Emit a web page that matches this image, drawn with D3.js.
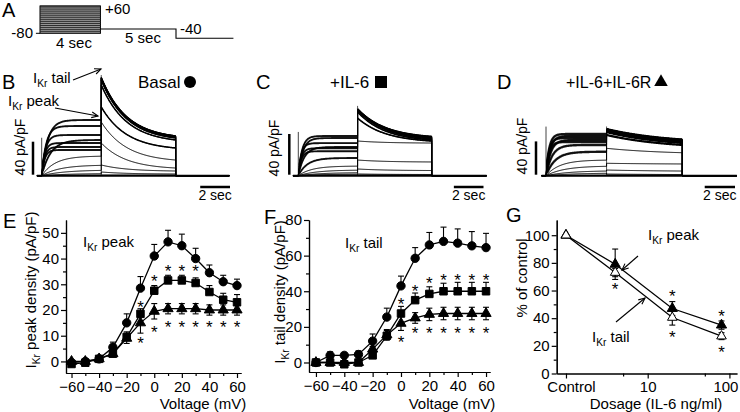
<!DOCTYPE html>
<html><head><meta charset="utf-8">
<script src="https://cdn.jsdelivr.net/npm/d3@7"></script>
<style>
body{margin:0;background:#fff;}
svg{display:block;font-family:Arial,"Liberation Sans",Helvetica,sans-serif;}
</style></head><body>
<svg id="fig" width="740" height="412"></svg>
<script>
// ---------------- DATA ----------------
const voltages = [-60,-50,-40,-30,-20,-10,0,10,20,30,40,50,60];
// Panel E: IKr peak density (pA/pF)
const peakBasal    = [-0.5,0,1,5.5,15,28.5,41,46.5,45,40,34.5,31,29.5];
const peakBasalErr = [1,1,0.5,2,3.5,4.5,4.5,4.5,4.5,4,3,2.5,2.5];
const peakIL6      = [-1,-0.5,1,3,9.5,18.5,27.5,31.5,31.5,30.5,27,24,23];
const peakIL6Err   = [0.5,0.5,0.5,1,2,2,2,2,2,2,2.5,2.5,3];
const peakIL6R     = [0,0,1,3,9,15,19.5,20.5,20.5,20.5,20,20,20];
const peakIL6RErr  = [0.5,0.5,0.5,1,2,4,3,2,2,2,2,2,2];
const peakStarsV   = [-10,0,10,20,30, -10,0,10,20,30,40,50,60];
const peakStarsY   = [22.5,32.5,36.5,36.5,36.5, 8.5,12.5,14.5,14.5,14.5,14.5,14.5,14.5];
// Panel F: IKr tail density (pA/pF)
const tailBasal    = [0,4,4,4.5,12,25.5,43,58.5,66,68,67,65.5,64.5];
const tailBasalErr = [1,2,1.5,2,4,5,5.5,6,7,8,8,8,8];
const tailIL6      = [0,0,-1,0,4,15,27.5,35,38.5,40,40,40,40];
const tailIL6Err   = [0.5,0.5,0.5,0.5,1,3,4,4,4,4.5,5,5,5];
const tailIL6R     = [0,0,0,0,7.5,15.5,22,25,27,27.5,27.5,27.5,27.5];
const tailIL6RErr  = [0.5,0.5,0.5,0.5,1.5,3,4,3,3.5,3.5,3.5,3.5,3.5];
const tailStarsV   = [0,10,20,30,40,50,60, 0,10,20,30,40,50,60];
const tailStarsY   = [34.5,42,46.3,48.2,48.2,48.2,48.2, 13.2,18.3,18.3,18.3,18.3,18.3,18.3];
// Panel G: % of control vs dosage
const doses        = [1,4,20,80];           // 1 = Control
const gPeak        = [100,79,47,35];
const gPeakErr     = [0,11,5,3];
const gTail        = [100,73,40.5,27];
const gTailErr     = [0,3,5.5,2.5];
const gStarsDose   = [4,20,20,80,80];
const gStarsY      = [63,58,28.4,43.5,18];
const gTickVals    = [1,10,100];
const gTickLabels  = ["Control","10","100"];
const gMinorVals   = [5,50];
// Panels B-D: current traces (pA/pF), one value per voltage step
const actTau       = [2,2,1.8,1.5,1.2,0.9,0.6,0.4,0.3,0.25,0.2,0.2,0.2];   // s
const stepB        = [0.2,0.8,2.7,6.9,13,23.9,43.3,67.5,60.2,49.3,39.6,34.8,31.2];
const tailStartB   = [0.2,0.8,4.5,13,39.6,65.1,83.3,110,116,117,118,118.5,119];
const tailEndB     = [0.2,0.8,2.1,5.7,9.3,19,33.6,43.3,45.7,46.9,46.9,48.1,48.1];
const stepC        = [0.2,0.7,1.7,3.1,5.6,9.5,17.4,28.2,37,39,32,27,24];
const tailStartC   = [0.2,0.7,1.7,6.6,15.4,34.1,56.6,62.6,64.6,65.1,65.1,65.6,65.6];
const tailEndC     = [0.2,0.7,1.2,5.1,13.5,32.1,34.1,35.1,36.1,37.1,37.6,38.1,38.6];
const stepD        = [0.2,0.8,3.2,6,11.7,18.9,28.8,36.9,42.9,47.7,50.1,45.3,40.5];
const tailStartD   = [0.2,0.8,2,6.8,14.9,32.9,48.9,52.4,53.6,54.8,55.5,55.5,56.1];
const tailEndD     = [0.2,0.8,1.4,5.6,14.1,27.6,36.9,39.3,40.5,41.7,42.9,42.9,43.5];
const tailTau      = [1.7,1.9,4];   // s, B, C, D
const transientAmp = [46,43,59];    // capacitive transient at step onset
const scaleBarAmp  = 40;            // pA/pF
const scaleBarTime = 2;             // s
const stepDur = 4, tailDur = 5;     // s

// ---------------- DRAWING ----------------
const svg = d3.select('#fig');
const FS = 15;

function ikr(parent, x, y, rest, size, opts = {}) {
  const t = parent.append('text').attr('x', x).attr('y', y)
    .attr('font-size', size).attr('fill', '#000');
  if (opts.anchor) t.attr('text-anchor', opts.anchor);
  if (opts.transform) t.attr('transform', opts.transform);
  t.append('tspan').text('I');
  t.append('tspan').text('Kr').attr('font-size', size * 0.68).attr('dy', size * 0.28);
  t.append('tspan').text(rest).attr('dy', -size * 0.28);
  return t;
}
function txt(parent, x, y, s, size, anchor) {
  return parent.append('text').attr('x', x).attr('y', y).attr('font-size', size)
    .attr('text-anchor', anchor || 'start').attr('fill', '#000').text(s);
}
function arrow(g, x1, y1, x2, y2) {
  g.append('line').attr('x1', x1).attr('y1', y1).attr('x2', x2).attr('y2', y2)
    .attr('stroke', '#000').attr('stroke-width', 1.1);
  const a = Math.atan2(y2 - y1, x2 - x1), L = 7, w = 0.42;
  const p = [[x2 - L * Math.cos(a - w), y2 - L * Math.sin(a - w)], [x2, y2], [x2 - L * Math.cos(a + w), y2 - L * Math.sin(a + w)]];
  g.append('path').attr('d', d3.line()(p)).attr('fill', 'none').attr('stroke', '#000').attr('stroke-width', 1.1);
}

// ---- Panel letters ----
[['A',2,17],['B',2,89],['C',256,89],['D',497,89],['E',3,228],['F',264,224],['G',506,222]]
  .forEach(([l,x,y]) => txt(svg, x, y, l, 20));

// ---- Panel A: protocol ----
{
  const g = svg.append('g');
  const t = d3.scaleLinear().domain([0, stepDur + tailDur]).range([40, 176]);
  const v = d3.scaleLinear().domain([-80, 60]).range([33.3, 6]);
  const yTail = 29, yEnd = 38.3;
  g.append('rect').attr('x', t(0)).attr('y', v(60)).attr('width', t(stepDur) - t(0))
    .attr('height', v(-80) - v(60)).attr('fill', '#9a9a9a').attr('stroke', '#000').attr('stroke-width', 1);
  g.selectAll(null).data(voltages).join('line')
    .attr('x1', t(0)).attr('x2', t(stepDur)).attr('y1', d => v(d)).attr('y2', d => v(d))
    .attr('stroke', '#222').attr('stroke-width', 0.9);
  g.append('line').attr('x1', t(0)).attr('x2', t(stepDur)).attr('y1', v(-70)).attr('y2', v(-70)).attr('stroke', '#222').attr('stroke-width', 0.9);
  g.append('path').attr('d', d3.line()([[t(-0.27), v(-80)], [t(0), v(-80)]])).attr('stroke', '#000').attr('fill', 'none');
  g.append('path').attr('d', d3.line()([[t(stepDur), yTail], [t(stepDur + tailDur), yTail], [t(stepDur + tailDur), yEnd], [t(stepDur + tailDur + 3.8), yEnd]]))
    .attr('stroke', '#000').attr('fill', 'none').attr('stroke-width', 1.1);
  txt(g, 33, 38, '-80', FS, 'end');
  txt(g, 105, 14, '+60', FS);
  txt(g, 74, 48, '4 sec', FS, 'middle');
  txt(g, 143, 43, '5 sec', FS, 'middle');
  txt(g, 180, 34, '-40', FS);
}

// ---- Panels B-D: traces ----
function tracePanel(idx, cfg, step, tStart, tEnd) {
  const g = svg.append('g');
  const x = d3.scaleLinear().domain([0, stepDur + tailDur]).range([cfg.x0, cfg.x1]);
  const y = d3.scaleLinear().domain([0, scaleBarAmp]).range([cfg.base, cfg.base - cfg.bar]);
  const k = tailTau[idx], e5 = Math.exp(-tailDur / k);
  const line = d3.line().x(d => x(d[0])).y(d => y(d[1]));
  g.append('line').attr('x1', x(0)).attr('x2', x(0)).attr('y1', y(0)).attr('y2', y(transientAmp[idx])).attr('stroke', '#444').attr('stroke-width', 1);
  g.append('line').attr('x1', x(stepDur)).attr('x2', x(stepDur)).attr('y1', y(0)).attr('y2', y(d3.max(tStart) + 3)).attr('stroke', '#555').attr('stroke-width', 1);
  g.append('line').attr('x1', x(stepDur + tailDur)).attr('x2', x(stepDur + tailDur)).attr('y1', y(0)).attr('y2', y(d3.max(tEnd))).attr('stroke', '#444').attr('stroke-width', 1);
  voltages.forEach((vv, i) => {
    const stepPts = [];
    for (let s = 0; s <= stepDur + 1e-9; s += 0.04) stepPts.push([s, step[i] * (1 - Math.exp(-s / actTau[i]))]);
    const tailPts = [];
    for (let s = 0; s <= tailDur + 1e-9; s += 0.04)
      tailPts.push([stepDur + s, tEnd[i] + (tStart[i] - tEnd[i]) * (Math.exp(-s / k) - e5) / (1 - e5)]);
    const pts = [[-cfg.pre, 0], [0, 0], ...stepPts, ...tailPts, [stepDur + tailDur, 0], [stepDur + tailDur + cfg.post, 0]];
    g.append('path').attr('d', line(pts)).attr('fill', 'none').attr('stroke', '#000').attr('stroke-width', 1);
    if (i >= 6) {
      g.append('path').attr('d', line(stepPts.slice(2))).attr('fill', 'none').attr('stroke', '#000')
        .attr('stroke-width', cfg.noise).attr('stroke-opacity', 0.85);
      g.append('path').attr('d', line(tailPts)).attr('fill', 'none').attr('stroke', '#000').attr('stroke-width', cfg.noiseTail);
    }
  });
  g.append('line').attr('x1', x(-cfg.pre)).attr('x2', x(stepDur + tailDur + cfg.post)).attr('y1', y(0)).attr('y2', y(0)).attr('stroke', '#000').attr('stroke-width', 2);
  g.append('line').attr('x1', cfg.vbx).attr('x2', cfg.vbx).attr('y1', y(0) - 1).attr('y2', y(scaleBarAmp) - 1).attr('stroke', '#000').attr('stroke-width', 2.5);
  const tbx1 = cfg.tbx, tbx0 = tbx1 - (x(scaleBarTime) - x(0));
  g.append('line').attr('x1', tbx0).attr('x2', tbx1).attr('y1', 187).attr('y2', 187).attr('stroke', '#000').attr('stroke-width', 2.5);
  txt(g, (tbx0 + tbx1) / 2, 200, '2 sec', 14, 'middle');
  g.append('text').attr('transform', `translate(${cfg.vlx},${cfg.vly}) rotate(-90)`)
    .attr('text-anchor', 'middle').attr('font-size', 14).text('40 pA/pF');
  return g;
}
tracePanel(0, {x0: 41.7, x1: 175.7, pre: 0.32, post: 3.6, base: 175.7, bar: 33, noise: 1.9, noiseTail: 1.5, vbx: 33, tbx: 230, vlx: 25, vly: 147}, stepB, tailStartB, tailEndB);
tracePanel(1, {x0: 298.3, x1: 431.7, pre: 0.36, post: 3.7, base: 175.7, bar: 40.7, noise: 1.9, noiseTail: 1.6, vbx: 289.3, tbx: 483.5, vlx: 279, vly: 148}, stepC, tailStartC, tailEndC);
tracePanel(2, {x0: 546, x1: 682.3, pre: 0.29, post: 3.6, base: 175.7, bar: 33.3, noise: 2.4, noiseTail: 2.2, vbx: 536, tbx: 735, vlx: 527, vly: 146}, stepD, tailStartD, tailEndD);

// headers B-D
ikr(svg, 33, 83, ' tail', FS);
arrow(svg, 73, 80, 101, 69);
ikr(svg, 8, 106, ' peak', FS);
arrow(svg, 55, 108, 98, 116);
txt(svg, 138, 88, 'Basal', 17);
svg.append('circle').attr('cx', 190).attr('cy', 82).attr('r', 6).attr('fill', '#000');
txt(svg, 330, 88, '+IL-6', 17);
svg.append('rect').attr('x', 375).attr('y', 76).attr('width', 12).attr('height', 12).attr('fill', '#000');
txt(svg, 566, 88, '+IL-6+IL-6R', 16);
svg.append('path').attr('transform', 'translate(661,82)').attr('d', d3.symbol(d3.symbolTriangle, 80)()).attr('fill', '#000');

// ---- Axis helper ----
function drawAxes(g, x, y, o) {
  const style = sel => {
    sel.attr('font-size', FS).attr('font-family', 'Arial,"Liberation Sans",sans-serif');
    sel.selectAll('.domain, .tick line').attr('stroke', '#000').attr('stroke-width', 1.2);
    sel.selectAll('.tick text').attr('fill', '#000');
  };
  g.append('g').attr('transform', `translate(${o.yAt},0)`)
    .call(d3.axisLeft(y).tickValues(o.yMinor).tickSize(3).tickFormat('').tickSizeOuter(0)).call(style);
  g.append('g').attr('transform', `translate(${o.yAt},0)`)
    .call(d3.axisLeft(y).tickValues(o.yMajor).tickSize(5).tickPadding(2).tickSizeOuter(0)).call(style);
  g.append('g').attr('transform', `translate(0,${o.xAt})`)
    .call(d3.axisBottom(x).tickValues(o.xMinor).tickSize(3).tickFormat('').tickSizeOuter(0)).call(style);
  const ax = d3.axisBottom(x).tickValues(o.xMajor).tickSize(5).tickPadding(3).tickSizeOuter(0);
  if (o.xFormat) ax.tickFormat(o.xFormat);
  return g.append('g').attr('transform', `translate(0,${o.xAt})`).call(ax).call(style);
}
function series(g, x, y, xs, ys, errs, symType, size, fill, both) {
  g.append('path').attr('d', d3.line().x((d, i) => x(xs[i])).y(d => y(d))(ys))
    .attr('fill', 'none').attr('stroke', '#000').attr('stroke-width', 1.3);
  ys.forEach((v, i) => {
    const e = errs[i]; if (!e) return;
    const cx = x(xs[i]), top = y(v + e), bot = both ? y(v - e) : y(v);
    g.append('line').attr('x1', cx).attr('x2', cx).attr('y1', top).attr('y2', bot).attr('stroke', '#000').attr('stroke-width', 1.1);
    g.append('line').attr('x1', cx - 3).attr('x2', cx + 3).attr('y1', top).attr('y2', top).attr('stroke', '#000').attr('stroke-width', 1.1);
    if (both) g.append('line').attr('x1', cx - 3).attr('x2', cx + 3).attr('y1', bot).attr('y2', bot).attr('stroke', '#000').attr('stroke-width', 1.1);
  });
  g.selectAll(null).data(ys).join('path')
    .attr('transform', (d, i) => `translate(${x(xs[i])},${y(d)})`)
    .attr('d', d3.symbol(symType, size)())
    .attr('fill', fill).attr('stroke', '#000').attr('stroke-width', 1);
}
function stars(g, x, y, xs, ys) {
  g.selectAll(null).data(ys).join('text')
    .attr('x', (d, i) => x(xs[i])).attr('y', d => y(d) + 9)
    .attr('text-anchor', 'middle').attr('font-size', 17).text('*');
}

// ---- Panel E ----
{
  const g = svg.append('g');
  const x = d3.scaleLinear().domain([-64, 62.9]).range([66, 241]);
  const y = d3.scaleLinear().domain([-4.5, 55]).range([373, 220]);
  drawAxes(g, x, y, {xAt: 373, yAt: 66, xMajor: [-60,-40,-20,0,20,40,60], xMinor: [-50,-30,-10,10,30,50],
    yMajor: [0,10,20,30,40,50], yMinor: [5,15,25,35,45]});
  series(g, x, y, voltages, peakBasal, peakBasalErr, d3.symbolCircle, 55, '#000', false);
  series(g, x, y, voltages, peakIL6, peakIL6Err, d3.symbolSquare, 56, '#000', false);
  series(g, x, y, voltages, peakIL6R, peakIL6RErr, d3.symbolTriangle, 45, '#000', true);
  stars(g, x, y, peakStarsV, peakStarsY);
  ikr(g, 83, 247, ' peak', FS);
  txt(g, 203, 409, 'Voltage (mV)', FS, 'middle');
  ikr(g, 0, 0, ' peak density (pA/pF)', FS, {anchor: 'middle', transform: 'translate(36,290) rotate(-90)'});
}
// ---- Panel F ----
{
  const g = svg.append('g');
  const x = d3.scaleLinear().domain([-64.9, 62.8]).range([309, 490]);
  const y = d3.scaleLinear().domain([-5.34, 80]).range([372, 220]);
  drawAxes(g, x, y, {xAt: 372, yAt: 309, xMajor: [-60,-40,-20,0,20,40,60], xMinor: [-50,-30,-10,10,30,50],
    yMajor: [0,20,40,60,80], yMinor: [10,30,50,70]});
  series(g, x, y, voltages, tailBasal, tailBasalErr, d3.symbolCircle, 55, '#000', false);
  series(g, x, y, voltages, tailIL6, tailIL6Err, d3.symbolSquare, 56, '#000', false);
  series(g, x, y, voltages, tailIL6R, tailIL6RErr, d3.symbolTriangle, 45, '#000', true);
  stars(g, x, y, tailStarsV, tailStarsY);
  ikr(g, 345, 248, ' tail', FS);
  txt(g, 452, 409, 'Voltage (mV)', FS, 'middle');
  ikr(g, 0, 0, ' tail density (pA/pF)', FS, {anchor: 'middle', transform: 'translate(285,292) rotate(-90)'});
}
// ---- Panel G ----
{
  const g = svg.append('g');
  const x = d3.scaleLog().domain([0.77, 123.8]).range([556.7, 737]);
  const y = d3.scaleLinear().domain([0, 111]).range([373.5, 220]);
  const xa = drawAxes(g, x, y, {xAt: 373.5, yAt: 556.7, xMajor: gTickVals, xMinor: gMinorVals,
    xFormat: (d) => gTickLabels[gTickVals.indexOf(d)],
    yMajor: [0,20,40,60,80,100], yMinor: [10,30,50,70,90]});
  xa.selectAll('.tick text').attr('dx', d => d === 100 ? -4 : (d === 1 ? 5 : 0));
  series(g, x, y, doses, gPeak, gPeakErr, d3.symbolTriangle, 45, '#000', true);
  series(g, x, y, doses, gTail, gTailErr, d3.symbolTriangle, 40, '#fff', true);
  stars(g, x, y, gStarsDose, gStarsY);
  ikr(g, 648, 240, ' peak', FS);
  arrow(g, 638, 256, 622, 270);
  ikr(g, 592, 342, ' tail', FS);
  arrow(g, 616, 322, 645, 298);
  txt(g, 656, 409, 'Dosage (IL-6 ng/ml)', FS, 'middle');
  g.append('text').attr('transform', 'translate(527,278) rotate(-90)').attr('text-anchor', 'middle')
    .attr('font-size', FS).text('% of control');
}
</script></body></html>
